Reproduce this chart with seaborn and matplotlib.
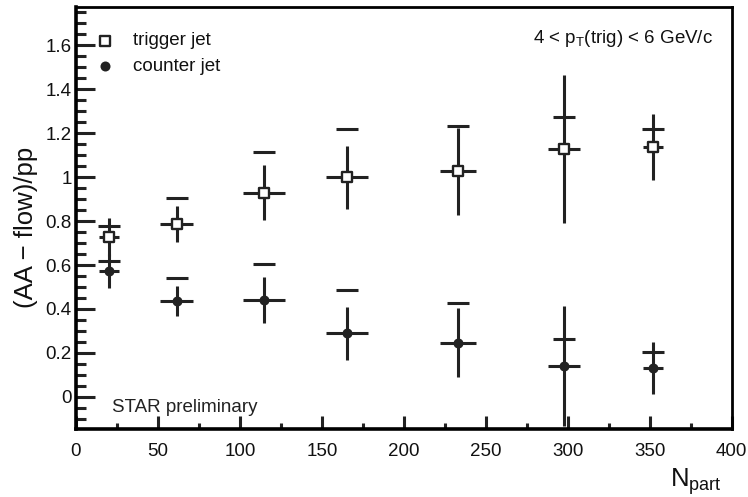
import numpy as np
import pandas as pd
import seaborn as sns
import matplotlib.pyplot as plt
from matplotlib.ticker import MultipleLocator, FuncFormatter

# centrality bins (N_part) and their horizontal half widths
npart = [20, 61.5, 114.5, 165.5, 233, 297.5, 352]
npart_err = [6, 10, 12.7, 12.7, 11, 9.7, 6.2]

# trigger jet: (AA - flow)/pp, stat. error, upper dash
trig_ratio = [0.727, 0.788, 0.929, 0.999, 1.027, 1.129, 1.136]
trig_err = [0.088, 0.083, 0.126, 0.145, 0.197, 0.338, 0.150]
trig_dash = [0.777, 0.906, 1.117, 1.220, 1.235, 1.273, 1.220]

# counter jet
counter_ratio = [0.573, 0.436, 0.441, 0.289, 0.246, 0.140, 0.131]
counter_err = [0.076, 0.068, 0.105, 0.120, 0.158, 0.275, 0.118]
counter_dash = [0.617, 0.541, 0.606, 0.487, 0.428, 0.263, 0.205]

dark = '#222222'

sns.set_style('ticks')
plt.rcParams['font.family'] = ['Liberation Sans', 'DejaVu Sans']
plt.rcParams['mathtext.fontset'] = 'custom'
plt.rcParams['mathtext.rm'] = 'Liberation Sans'
plt.rcParams['mathtext.it'] = 'Liberation Sans:italic'

df_trig = pd.DataFrame({'npart': npart, 'ratio': trig_ratio})
df_counter = pd.DataFrame({'npart': npart, 'ratio': counter_ratio})

fig = plt.figure(figsize=(7.48, 4.97), dpi=100)
ax = fig.add_axes([0.1016, 0.1362, 0.8766, 0.8497])

# error crosses
ax.errorbar(npart, trig_ratio, xerr=npart_err, yerr=trig_err, fmt='none',
            ecolor=dark, elinewidth=2.2, capsize=0, zorder=2)
ax.errorbar(npart, counter_ratio, xerr=npart_err, yerr=counter_err, fmt='none',
            ecolor=dark, elinewidth=2.2, capsize=0, zorder=2)

# horizontal dashes above each point
ax.plot(npart, trig_dash, ls='none', marker='_', ms=15.3, mew=2.2, color=dark, zorder=2)
ax.plot(npart, counter_dash, ls='none', marker='_', ms=15.3, mew=2.2, color=dark, zorder=2)

# markers
sns.scatterplot(data=df_trig, x='npart', y='ratio', marker='s', s=62,
                facecolor='white', edgecolor=dark, linewidth=1.7,
                label='trigger jet', ax=ax, zorder=3)
sns.scatterplot(data=df_counter, x='npart', y='ratio', marker='o', s=52,
                color=dark, edgecolor=dark, linewidth=0,
                label='counter jet', ax=ax, zorder=3)

ax.set_xlim(0, 400)
ax.set_ylim(-0.148, 1.775)
ax.xaxis.set_major_locator(MultipleLocator(50))
ax.xaxis.set_minor_locator(MultipleLocator(25))
ax.yaxis.set_major_locator(MultipleLocator(0.2))
ax.yaxis.set_minor_locator(MultipleLocator(0.05))
ax.yaxis.set_major_formatter(FuncFormatter(lambda v, p: f'{round(v, 2) + 0.0:g}'))

ax.tick_params(axis='both', which='both', direction='in', top=False, right=False,
               labelsize=13.5, width=2.2, color=dark, labelcolor='#111111')
ax.tick_params(axis='y', which='major', length=13.7, pad=3)
ax.tick_params(axis='y', which='minor', length=6.9)
ax.tick_params(axis='x', which='major', length=9.1, pad=9.5)
ax.tick_params(axis='x', which='minor', length=4.6)

for side in ['left', 'bottom']:
    ax.spines[side].set_linewidth(2.6)
for side in ['top', 'right']:
    ax.spines[side].set_linewidth(2.0)
for s in ax.spines.values():
    s.set_color('black')

ax.set_xlabel('')
ax.set_ylabel('(AA \u2212 flow)/pp', fontsize=18.5, color='#111111')
ax.yaxis.set_label_coords(-0.058, 0.477)
ax.text(0.9847, -0.136, r'N$_{\mathrm{part}}$', transform=ax.transAxes,
        ha='right', va='baseline', fontsize=18.5, color='#111111')

ax.text(0.972, 0.9136, r'4 < p$_{\mathrm{T}}$(trig) < 6 GeV/c', transform=ax.transAxes,
        ha='right', va='baseline', fontsize=13.5, color='#111111')
ax.text(0.0544, 0.0417, 'STAR preliminary', transform=ax.transAxes,
        ha='left', va='baseline', fontsize=13.5, color='#222222')

leg = ax.legend(loc='upper left', bbox_to_anchor=(0.0328, 0.94), frameon=False,
                handlelength=0.8, handletextpad=1.1, borderpad=0, borderaxespad=0,
                labelspacing=0.45, fontsize=13.5, scatterpoints=1)
for t in leg.get_texts():
    t.set_color('#111111')

fig.savefig('out.png', dpi=100)
